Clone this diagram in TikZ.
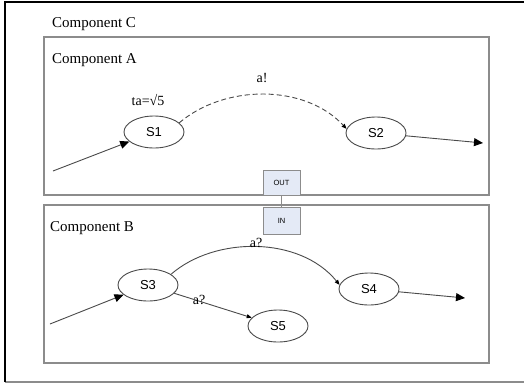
\documentclass[tikz,border=0pt]{standalone}
\usepackage{fontspec}
\setmainfont{Liberation Serif}
\newfontfamily\statefont{Liberation Sans}
\usetikzlibrary{shapes.geometric,arrows.meta}
\definecolor{framegray}{HTML}{8C8C8C}
\definecolor{linegray}{HTML}{4A4A4A}
\definecolor{portfill}{HTML}{E4EAF6}
\tikzset{
  state/.style={ellipse, draw=linegray, line width=0.9pt, inner sep=0pt,
    minimum width=60pt, minimum height=32pt, font=\statefont\fontsize{13}{13}\selectfont},
  compbox/.style={draw=framegray, line width=1.3pt},
  port/.style={rectangle, draw=framegray, fill=portfill, line width=1pt, inner sep=0pt,
    minimum width=37pt, font=\statefont\fontsize{7.5}{7.5}\selectfont},
  lbl/.style={font=\fontsize{14}{14}\selectfont, inner sep=0pt},
  title/.style={font=\fontsize{15}{15}\selectfont, inner sep=0pt, anchor=west},
  trans/.style={draw=linegray, line width=0.9pt, -{Triangle[length=5pt,width=4pt,color=black]}},
  bigtrans/.style={draw=linegray, line width=0.9pt, -{Triangle[length=9pt,width=8pt,color=black]}},
}
\begin{document}
\begin{tikzpicture}[x=1pt,y=-1pt]
\useasboundingbox (0,0) rectangle (524,383);
\fill[white] (0,0) rectangle (524,383);

% outer component frame
\draw[framegray, line width=1.3pt] (5,382) -- (524,382);
\draw[black, line width=2pt] (5,382) -- (5,2) -- (524,2);
\node[title] (tc) at (52,24) {Component C};

% inner components
\draw[compbox] (44,37) rectangle (489,195);
\draw[compbox] (44,205) rectangle (489,363);
\node[title] (ta) at (52,60) {Component A};
\node[title] (tb) at (50,228) {Component B};

% ports
\node[port, minimum height=25pt] (out) at (281.5,182.5) {OUT};
\node[port, minimum height=27pt] (in) at (281.5,220.5) {IN};
\draw[framegray, line width=1pt] (out.south) -- (in.north);

% component A
\node[state] (s1) at (154,132) {S1};
\node[state] (s2) at (376,133) {S2};
\coordinate (a0) at (53,171);
\coordinate (a1) at (483,143);
\draw[bigtrans] (a0) -- (s1);
\draw[trans, dashed, dash pattern=on 5pt off 3pt] (s1.20) .. controls (225,84) and (305,84) .. (s2.172);
\draw[bigtrans] (s2) -- (a1);
\node[lbl] (tat) at (148,100) {ta=√5};
\node[lbl] (la) at (262,78) {a!};

% component B
\node[state] (s3) at (148,285) {S3};
\node[state] (s4) at (369,289) {S4};
\node[state] (s5) at (278,326) {S5};
\coordinate (b0) at (50,324);
\coordinate (b1) at (465,298);
\draw[bigtrans] (b0) -- (s3);
\draw[trans] (s3.25) .. controls (215,236) and (300,236) .. (s4.172);
\draw[trans] (s3) -- (s5);
\draw[bigtrans] (s4) -- (b1);
\node[lbl] (lb1) at (256,243) {a?};
\node[lbl] (lb2) at (199,300) {a?};
\end{tikzpicture}
\end{document}
